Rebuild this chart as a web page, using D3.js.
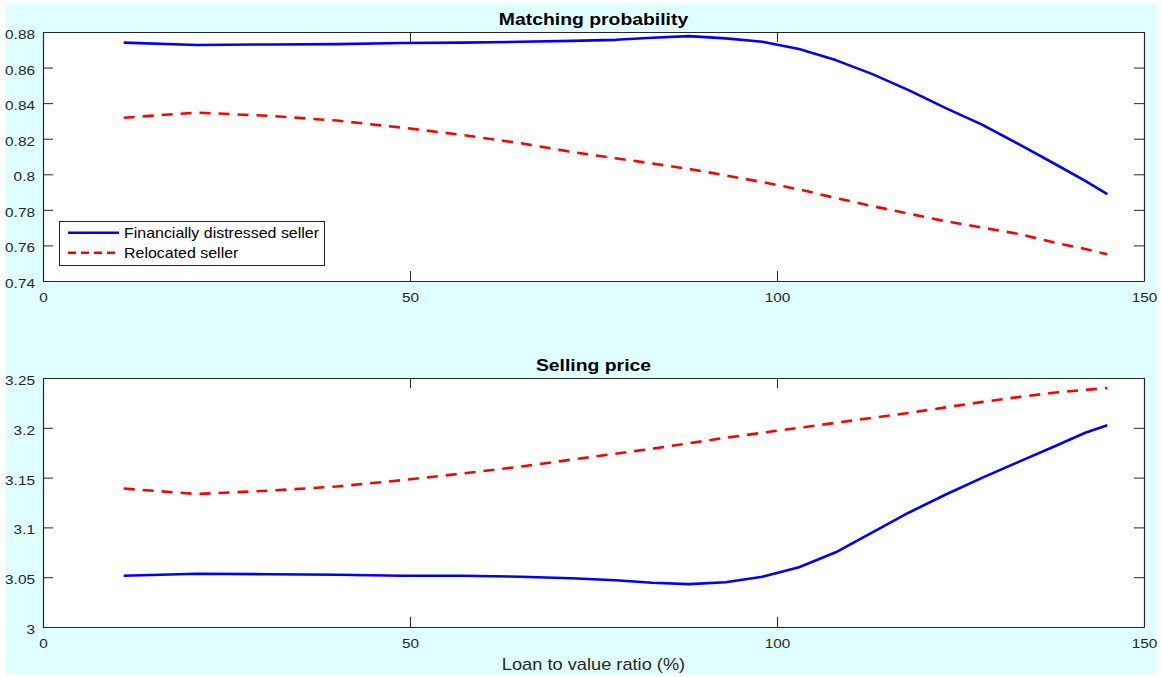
<!DOCTYPE html>
<html>
<head>
<meta charset="utf-8">
<script src="https://cdn.jsdelivr.net/npm/d3@7"></script>
<style>
  html, body { margin: 0; padding: 0; background: #ffffff; }
  svg { display: block; font-family: "Liberation Sans", Arial, sans-serif; }
</style>
</head>
<body>
<svg id="chart" width="1162" height="677"></svg>
<script>
// ---------- data ----------
const ltv = [11, 21, 31, 40, 49, 57, 65, 72, 78, 83, 88, 93, 98, 103, 108, 113, 118, 123, 128, 133, 138, 142, 145];
const matchDistressed = [0.8740, 0.8727, 0.8730, 0.8732, 0.8738, 0.8740, 0.8745, 0.8750, 0.8756, 0.8768, 0.8777, 0.8764, 0.8745, 0.8704, 0.8642, 0.8563, 0.8472, 0.8372, 0.8278, 0.8168, 0.8055, 0.7963, 0.7889];
const matchRelocated = [0.8318, 0.8347, 0.8328, 0.8302, 0.8262, 0.8222, 0.8175, 0.8126, 0.8090, 0.8061, 0.8030, 0.7994, 0.7956, 0.7915, 0.7867, 0.7821, 0.7778, 0.7736, 0.7700, 0.7664, 0.7614, 0.7580, 0.7550];
const priceDistressed = [3.0515, 3.0535, 3.0530, 3.0525, 3.0515, 3.0515, 3.0505, 3.0490, 3.0470, 3.0445, 3.0430, 3.0450, 3.0505, 3.0600, 3.0750, 3.0950, 3.1150, 3.1330, 3.1500, 3.1660, 3.1820, 3.1950, 3.2025];
const priceRelocated = [3.1390, 3.1335, 3.1370, 3.1410, 3.1475, 3.1540, 3.1610, 3.1680, 3.1740, 3.1790, 3.1845, 3.1900, 3.1950, 3.2000, 3.2050, 3.2100, 3.2150, 3.2205, 3.2260, 3.2310, 3.2355, 3.2380, 3.2400];
const seriesNames = ["Financially distressed seller", "Relocated seller"];
const xTicks = [0, 50, 100, 150];
const matchTicks = [0.74, 0.76, 0.78, 0.80, 0.82, 0.84, 0.86, 0.88];
const priceTicks = [3.00, 3.05, 3.10, 3.15, 3.20, 3.25];
const titles = ["Matching probability", "Selling price"];
const xLabel = "Loan to value ratio (%)";

// ---------- layout ----------
const SX = 1.14;               // horizontal text stretch
const AX = "#262626";
const svg = d3.select("#chart");
svg.append("rect").attr("x", 5).attr("y", 3).attr("width", 1152).attr("height", 671).attr("fill", "#e0ffff");

const left = 43, right = 1144;
const panels = [
  { top: 32, bottom: 281, domain: [0.74, 0.88], ticks: matchTicks, a: matchDistressed, b: matchRelocated, title: titles[0], legend: true },
  { top: 378, bottom: 627, domain: [3.0, 3.25], ticks: priceTicks, a: priceDistressed, b: priceRelocated, title: titles[1], legend: false }
];

const x = d3.scaleLinear().domain([0, 150]).range([left, right]);
const fmt = d => String(+d.toFixed(2));

function stext(parent, px, py, str, anchor, size, weight) {
  return parent.append("text")
    .attr("transform", `translate(${px},${py}) scale(${SX},1)`)
    .attr("text-anchor", anchor)
    .attr("font-size", size)
    .attr("font-weight", weight || "normal")
    .attr("fill", weight === "bold" ? "#000" : "#262626")
    .text(str);
}

panels.forEach(p => {
  const y = d3.scaleLinear().domain(p.domain).range([p.bottom, p.top]);
  const g = svg.append("g");
  g.append("rect").attr("x", left).attr("y", p.top).attr("width", right - left).attr("height", p.bottom - p.top).attr("fill", "#ffffff");

  // series
  const line = d3.line().x((d, i) => x(ltv[i])).y(d => y(d));
  g.append("path").datum(p.a).attr("d", line).attr("fill", "none").attr("stroke", "#0000ff").attr("stroke-width", 2.6).attr("stroke-linejoin", "round");
  g.append("path").datum(p.b).attr("d", line).attr("fill", "none").attr("stroke", "#ff0000").attr("stroke-width", 2.6).attr("stroke-dasharray", "11,8");

  // axes
  const styleAxis = sel => { sel.selectAll("path, line").attr("stroke", AX); sel.selectAll("text").attr("fill", "#262626"); };
  const ax1 = g.append("g").attr("transform", `translate(${left},0)`)
    .call(d3.axisLeft(y).tickValues(p.ticks).tickFormat(fmt).tickSizeInner(-10).tickSizeOuter(0).tickPadding(8));
  ax1.selectAll("text").attr("font-size", 13.5).attr("font-family", null).attr("x", -8 / SX).attr("dy", null).attr("dominant-baseline", null)
    .attr("y", 6.5).attr("transform", `scale(${SX},1)`);
  styleAxis(ax1);
  const ax2 = g.append("g").attr("transform", `translate(${right},0)`)
    .call(d3.axisRight(y).tickValues(p.ticks).tickFormat("").tickSizeInner(-10).tickSizeOuter(0));
  styleAxis(ax2);
  const ax3 = g.append("g").attr("transform", `translate(0,${p.bottom})`)
    .call(d3.axisBottom(x).tickValues(xTicks).tickFormat(fmt).tickSizeInner(-10).tickSizeOuter(0));
  ax3.selectAll("text").attr("font-size", 13.5).attr("font-family", null).attr("dy", null).attr("y", 21.5).attr("transform", `scale(${SX},1)`);
  styleAxis(ax3);
  const ax4 = g.append("g").attr("transform", `translate(0,${p.top})`)
    .call(d3.axisTop(x).tickValues(xTicks).tickFormat("").tickSizeInner(-10).tickSizeOuter(0));
  styleAxis(ax4);
  g.selectAll(".domain").attr("stroke-width", 1.2);

  // title
  stext(svg, (left + right) / 2, p.top - 7, p.title, "middle", 17, "bold");

  // legend
  if (p.legend) {
    const lg = svg.append("g");
    lg.append("rect").attr("x", 59.5).attr("y", 221.5).attr("width", 265).attr("height", 44)
      .attr("fill", "#ffffff").attr("stroke", AX).attr("stroke-width", 1);
    const rows = [{ c: "#0000ff", dash: null, yy: 232.7 }, { c: "#ff0000", dash: "8,5", yy: 252.7 }];
    rows.forEach((r, i) => {
      lg.append("line").attr("x1", 68).attr("x2", 119).attr("y1", r.yy).attr("y2", r.yy)
        .attr("stroke", r.c).attr("stroke-width", 2.6).attr("stroke-dasharray", r.dash);
      stext(lg, 124, r.yy + 5, seriesNames[i], "start", 14).attr("fill", "#000");
    });
  }
});

stext(svg, (left + right) / 2, 670, xLabel, "middle", 16).attr("fill", "#262626");
</script>
</body>
</html>
